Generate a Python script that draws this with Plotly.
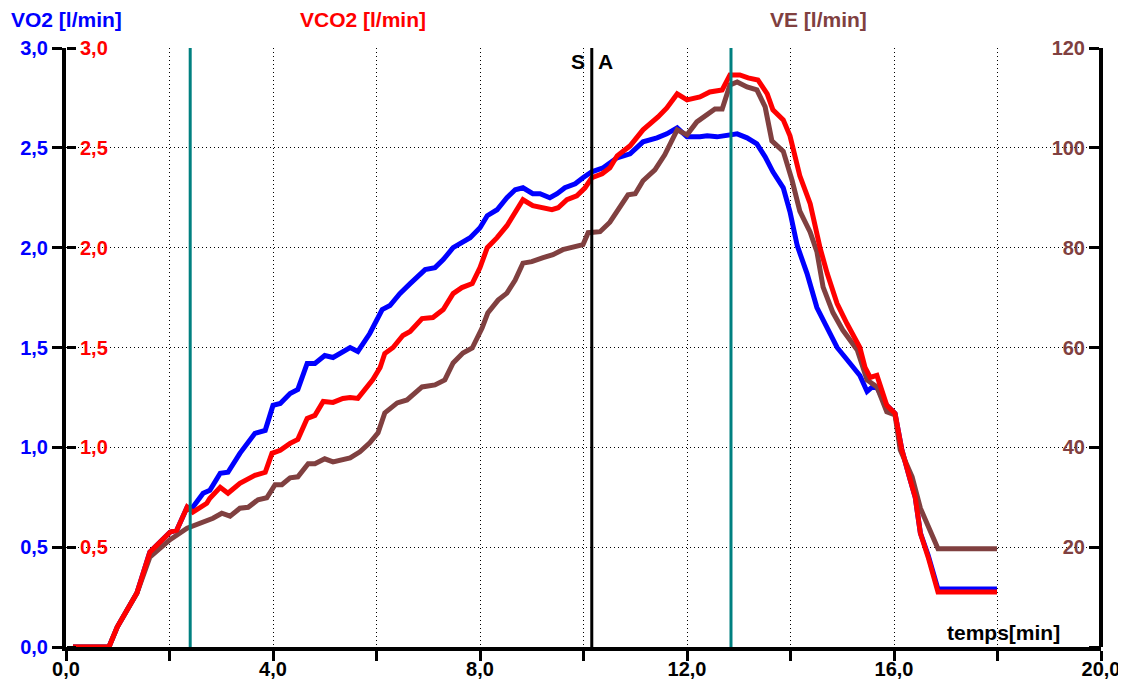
import plotly.graph_objects as go

# ---- data ----
t_vo2 = [0.135, 0.83, 0.99, 1.37, 1.62, 2.01, 2.14, 2.34, 2.45, 2.65, 2.78, 2.98, 3.13, 3.36, 3.65, 3.85,
         4.00, 4.14, 4.33, 4.48, 4.66, 4.81, 5.00, 5.16, 5.49, 5.64, 5.87, 6.11, 6.26, 6.45, 6.65, 6.94,
         7.13, 7.29, 7.48, 7.81, 8.00, 8.14, 8.33, 8.52, 8.68, 8.83, 9.02, 9.16, 9.35, 9.49, 9.64, 9.84,
         9.99, 10.16, 10.38, 10.65, 10.90, 11.15, 11.42, 11.61, 11.81, 12.00, 12.25, 12.39, 12.58, 12.77,
         12.97, 13.16, 13.35, 13.51, 13.66, 13.86, 13.99, 14.13, 14.32, 14.51, 14.71, 14.90, 15.09, 15.34,
         15.48, 15.57, 15.67, 15.86, 16.02, 16.15, 16.31, 16.41, 16.51, 16.66, 16.85, 17.99]
vo2 = [0, 0, 0.10, 0.27, 0.475, 0.575, 0.585, 0.70, 0.70, 0.77, 0.785, 0.87, 0.875, 0.97, 1.07, 1.085,
       1.21, 1.22, 1.27, 1.29, 1.42, 1.42, 1.46, 1.45, 1.50, 1.48, 1.57, 1.69, 1.71, 1.77, 1.82, 1.89,
       1.90, 1.94, 2.00, 2.05, 2.10, 2.16, 2.19, 2.25, 2.29, 2.30, 2.27, 2.27, 2.25, 2.27, 2.30, 2.32,
       2.35, 2.38, 2.40, 2.45, 2.47, 2.53, 2.55, 2.57, 2.60, 2.555, 2.555, 2.56, 2.555, 2.565,
       2.57, 2.55, 2.52, 2.455, 2.38, 2.30, 2.18, 2.01, 1.87, 1.70, 1.59, 1.50, 1.44, 1.36,
       1.28, 1.30, 1.30, 1.21, 1.17, 0.99, 0.84, 0.75, 0.57, 0.46, 0.29, 0.29]

t_vco2 = [0.135, 0.83, 0.99, 1.37, 1.62, 2.01, 2.14, 2.34, 2.45, 2.72, 2.78, 2.98, 3.13, 3.36, 3.65, 3.85,
          3.98, 4.14, 4.33, 4.48, 4.66, 4.81, 4.97, 5.16, 5.35, 5.49, 5.64, 5.93, 6.07, 6.16, 6.32, 6.51,
          6.65, 6.88, 7.09, 7.29, 7.48, 7.65, 7.85, 8.00, 8.14, 8.33, 8.52, 8.68, 8.83, 9.02, 9.22, 9.39,
          9.51, 9.68, 9.87, 10.03, 10.16, 10.36, 10.51, 10.65, 10.90, 11.15, 11.44, 11.61, 11.81, 12.00,
          12.25, 12.44, 12.68, 12.83, 13.02, 13.18, 13.37, 13.55, 13.66, 13.86, 13.99, 14.18, 14.38, 14.57,
          14.71, 14.90, 15.09, 15.34, 15.44, 15.54, 15.67, 15.86, 16.02, 16.15, 16.31, 16.41, 16.51, 16.66,
          16.85, 17.99]
vco2 = [0, 0, 0.10, 0.27, 0.475, 0.575, 0.585, 0.70, 0.675, 0.72, 0.745, 0.80, 0.77, 0.82, 0.86, 0.875,
        0.97, 0.985, 1.02, 1.04, 1.145, 1.16, 1.23, 1.225, 1.245, 1.25, 1.245, 1.34, 1.40, 1.47, 1.50, 1.56,
        1.58, 1.645, 1.65, 1.69, 1.77, 1.80, 1.82, 1.90, 2.00, 2.05, 2.11, 2.18, 2.24, 2.21, 2.20, 2.19,
        2.20, 2.24, 2.26, 2.30, 2.35, 2.37, 2.40, 2.46, 2.51, 2.59, 2.655, 2.70, 2.77, 2.74,
        2.755, 2.78, 2.79, 2.865, 2.865, 2.85, 2.84, 2.77, 2.69, 2.64, 2.56, 2.36, 2.22, 2.00,
        1.87, 1.72, 1.62, 1.50, 1.40, 1.35, 1.36, 1.21, 1.17, 0.99, 0.84, 0.75, 0.57, 0.45,
        0.275, 0.275]

t_ve = [0.135, 0.83, 0.99, 1.37, 1.62, 2.01, 2.34, 2.84, 3.01, 3.17, 3.36, 3.52, 3.71, 3.88, 4.04, 4.17,
        4.33, 4.48, 4.68, 4.81, 5.00, 5.16, 5.49, 5.68, 5.87, 6.03, 6.16, 6.40, 6.59, 6.88, 7.13, 7.32,
        7.48, 7.67, 7.85, 8.04, 8.15, 8.35, 8.52, 8.68, 8.83, 9.00, 9.22, 9.41, 9.60, 9.80, 9.99, 10.09,
        10.32, 10.51, 10.71, 10.86, 11.00, 11.15, 11.38, 11.57, 11.81, 12.00, 12.19, 12.39, 12.54, 12.68,
        12.83, 12.97, 13.16, 13.35, 13.51, 13.64, 13.86, 14.03, 14.18, 14.38, 14.51, 14.63, 14.82, 15.01,
        15.29, 15.48, 15.67, 15.86, 16.02, 16.12, 16.35, 16.51, 16.70, 16.85, 17.99]
ve = [0, 0, 4, 10.8, 18, 21.5, 23.8, 25.8, 26.8, 26.2, 27.8, 28, 29.5, 29.9, 32.5, 32.5,
      33.9, 34.1, 36.7, 36.7, 37.7, 37.1, 37.9, 39.1, 40.9, 42.9, 46.9, 48.9, 49.5, 52.1, 52.5, 53.5,
      56.9, 58.9, 59.9, 63.9, 66.9, 69.5, 70.9, 73.5, 76.9, 77.2, 78, 78.6, 79.6, 80.2, 80.6, 83,
      83.2, 85.1, 88, 90.6, 90.8, 93.4, 95.6, 98.6, 103.6, 102.6, 105.2, 106.6, 107.8, 107.8,
      112.6, 113.2, 112.2, 111.6, 108.2, 101.4, 99.3, 93.5, 87.3, 83.1, 79.2, 72.1, 67, 63.5,
      59.5, 53.5, 52.1, 47.1, 46.5, 39.5, 34.1, 27.8, 23.4, 19.7, 19.7]

teal_markers = [2.40, 12.85]
sa_marker = 10.16

x_ticks = [0, 2, 4, 6, 8, 10, 12, 14, 16, 18, 20]
x_labels = ["0,0", "", "4,0", "", "8,0", "", "12,0", "", "16,0", "", "20,0"]
y_ticks = [0, 0.5, 1.0, 1.5, 2.0, 2.5, 3.0]
y_labels = ["0,0", "0,5", "1,0", "1,5", "2,0", "2,5", "3,0"]
y_labels_red = ["", "0,5", "1,0", "1,5", "2,0", "2,5", "3,0"]
ve_ticks = [0, 20, 40, 60, 80, 100, 120]
ve_labels = ["", "20", "40", "60", "80", "100", "120"]

BLUE = "#0000FF"
RED = "#FF0000"
BROWN = "#804040"
TEAL = "#008080"
FONT = "Liberation Sans"
GRID_DASH = "1px,3px"

fig = go.Figure()
fig.add_trace(go.Scatter(x=t_vo2, y=vo2, mode="lines", line=dict(color=BLUE, width=5), yaxis="y"))
fig.add_trace(go.Scatter(x=t_vco2, y=vco2, mode="lines", line=dict(color=RED, width=5), yaxis="y3"))
fig.add_trace(go.Scatter(x=t_ve, y=ve, mode="lines", line=dict(color=BROWN, width=5), yaxis="y2"))

for m in teal_markers:
    fig.add_shape(type="line", xref="x", yref="paper", x0=m, x1=m, y0=0, y1=1,
                  line=dict(color=TEAL, width=3))
fig.add_shape(type="line", xref="x", yref="paper", x0=sa_marker, x1=sa_marker, y0=0, y1=1,
              line=dict(color="black", width=3))

tf = dict(family=FONT, size=20, weight="bold")

# page body has an 8px default margin, so the figure is sized/shifted to compensate
fig.update_layout(
    width=1118, height=675,
    margin=dict(l=58, r=25, t=40, b=36),
    paper_bgcolor="white", plot_bgcolor="white",
    showlegend=False,
    xaxis=dict(range=[0, 20], tickvals=x_ticks, ticktext=x_labels, ticks="outside", ticklen=10,
               tickwidth=3, tickcolor="black", showline=True, linewidth=4, linecolor="black",
               showgrid=True, gridcolor="black", griddash=GRID_DASH, gridwidth=1, zeroline=False,
               automargin=False, ticklabelstandoff=-9, tickfont=dict(color="black", **tf)),
    yaxis=dict(range=[0, 3], tickvals=y_ticks, ticktext=y_labels, ticks="outside", ticklen=10,
               tickwidth=3, tickcolor="black", showline=True, linewidth=4, linecolor="black",
               showgrid=True, gridcolor="black", griddash=GRID_DASH, gridwidth=1, zeroline=False,
               automargin=False, tickfont=dict(color=BLUE, **tf)),
    yaxis3=dict(range=[0, 3], overlaying="y", side="right", anchor="free", position=0,
                tickvals=y_ticks, ticktext=y_labels_red, ticks="outside", ticklen=9, tickwidth=3,
                tickcolor="black", showline=False, showgrid=False, zeroline=False,
                automargin=False, tickfont=dict(color=RED, **tf)),
    yaxis2=dict(range=[0, 120], overlaying="y", side="left", anchor="free", position=1,
                tickvals=ve_ticks, ticktext=ve_labels, ticks="outside", ticklen=10, tickwidth=3,
                tickcolor="black", showline=True, linewidth=4, linecolor="black",
                showgrid=False, zeroline=False, automargin=False,
                tickfont=dict(color=BROWN, **tf)),
)

af = dict(family=FONT, size=21, weight="bold")
fig.add_annotation(text="VO2 [l/min]", xref="paper", yref="paper", x=-0.055, y=1.048,
                   xanchor="left", yanchor="middle", showarrow=False, font=dict(color=BLUE, **af))
fig.add_annotation(text="VCO2 [l/min]", xref="paper", yref="paper", x=0.287, y=1.048,
                   xanchor="center", yanchor="middle", showarrow=False, font=dict(color=RED, **af))
fig.add_annotation(text="VE [l/min]", xref="paper", yref="paper", x=0.7266, y=1.048,
                   xanchor="center", yanchor="middle", showarrow=False, font=dict(color=BROWN, **af))
fig.add_annotation(text="temps[min]", xref="paper", yref="paper", x=0.906, y=0.025,
                   xanchor="center", yanchor="middle", showarrow=False, font=dict(color="black", **af))
fig.add_annotation(text="S", xref="x", yref="y", x=sa_marker, y=2.93, xanchor="right", xshift=-5,
                   yanchor="middle", showarrow=False, font=dict(color="black", **af))
fig.add_annotation(text="A", xref="x", yref="y", x=sa_marker, y=2.93, xanchor="left", xshift=4,
                   yanchor="middle", showarrow=False, font=dict(color="black", **af))

fig.write_html("out.html")
